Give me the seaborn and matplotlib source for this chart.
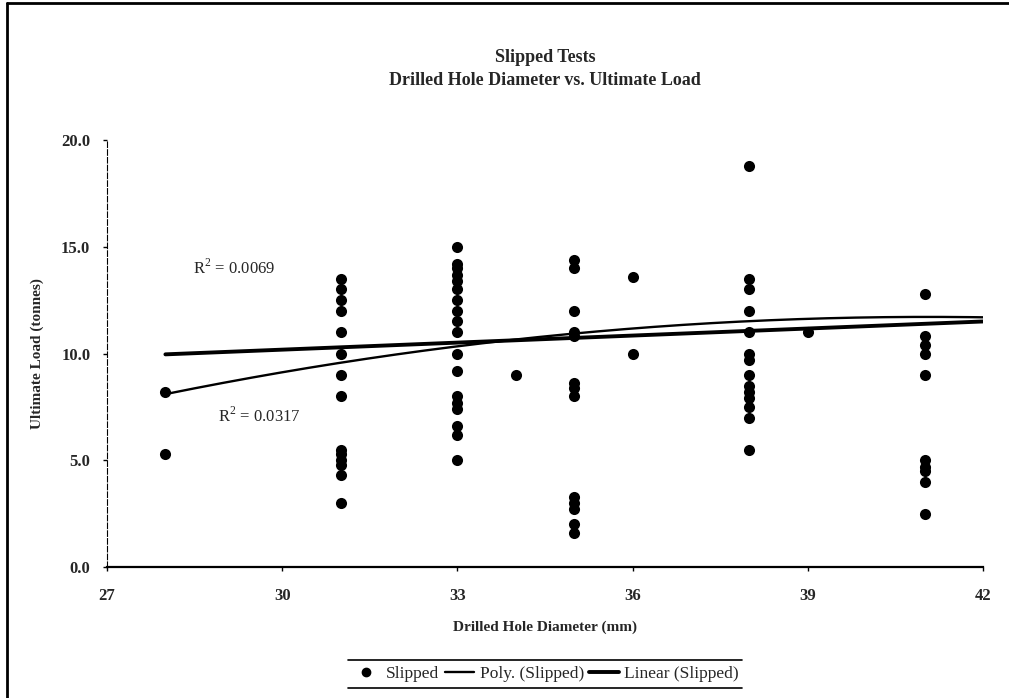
import numpy as np
import pandas as pd
import matplotlib
matplotlib.use("Agg")
import matplotlib.pyplot as plt
from matplotlib.lines import Line2D
import seaborn as sns

# ---- data ----
d28 = [8.2, 5.3]
d31 = [13.5, 13.0, 12.5, 12.0, 11.0, 10.0, 9.0, 8.0, 5.5, 5.3, 5.0, 4.8, 4.3, 3.0]
d33 = [15.0, 14.2, 14.0, 13.7, 13.4, 13.0, 12.5, 12.0, 11.5, 11.0, 10.0, 9.2,
       8.0, 7.7, 7.4, 6.6, 6.2, 5.0]
d34 = [9.0]
d35 = [14.4, 14.0, 12.0, 11.0, 10.8, 8.6, 8.4, 8.0, 3.3, 3.0, 2.7, 2.0, 1.6]
d36 = [13.6, 10.0]
d38 = [18.8, 13.5, 13.0, 12.0, 11.0, 10.0, 9.7, 9.0, 8.5, 8.2, 7.9, 7.5, 7.0, 5.5]
d39 = [11.0]
d41 = [12.8, 10.8, 10.4, 10.0, 9.0, 5.0, 4.7, 4.5, 4.0, 2.5]

groups = {28: d28, 31: d31, 33: d33, 34: d34, 35: d35, 36: d36, 38: d38, 39: d39, 41: d41}
diam_mm = [k for k, v in groups.items() for _ in v]
load_t = [y for v in groups.values() for y in v]

# trendline coefficients as shown in the reference (highest power first)
linear_coef = [0.110, 6.88]
poly_coef = [-0.0212, 1.741, -24.03]
trend_range = [28, 42]

x_ticks = [27, 30, 33, 36, 39, 42]
y_ticks = [0, 5, 10, 15, 20]
r2_linear_label = "R$^{2}$ = 0.0069"
r2_poly_label = "R$^{2}$ = 0.0317"

title = "Slipped Tests\nDrilled Hole Diameter vs. Ultimate Load"
xlabel = "Drilled Hole Diameter (mm)"
ylabel = "Ultimate Load (tonnes)"

df = pd.DataFrame({"diam": diam_mm, "load": load_t})

sns.set_style("white")
plt.rcParams['font.family'] = ['Liberation Serif', 'DejaVu Serif']
plt.rcParams['mathtext.fontset'] = 'custom'
plt.rcParams['mathtext.rm'] = 'Liberation Serif'

W, H = 1009, 698
fig = plt.figure(figsize=(W / 100, H / 100), dpi=100)
ax = fig.add_axes([107 / W, 1 - 567 / H, (983 - 107) / W, (567 - 140) / H])

sns.scatterplot(data=df, x="diam", y="load", ax=ax, color="black", s=64,
                edgecolor="black", linewidth=0, legend=False, zorder=3)

xfit = np.linspace(trend_range[0], trend_range[1], 200)
tdf = pd.DataFrame({"x": xfit,
                    "lin": np.polyval(linear_coef, xfit),
                    "poly": np.polyval(poly_coef, xfit)})
sns.lineplot(data=tdf, x="x", y="lin", ax=ax, color="black", lw=2.8, zorder=4)
sns.lineplot(data=tdf, x="x", y="poly", ax=ax, color="black", lw=1.7, zorder=4)

ax.set_xlim(27, 42)
ax.set_ylim(0, 20)
ax.set_xticks(x_ticks)
ax.set_xticklabels([str(t) for t in x_ticks])
ax.set_yticks(y_ticks)
ax.set_yticklabels([f"{t:.1f}" for t in y_ticks])
for lab in ax.get_xticklabels() + ax.get_yticklabels():
    lab.set_fontweight("bold")
    lab.set_fontsize(12)
ax.tick_params(axis="both", direction="out", length=3, width=1, color="black",
               bottom=True, left=True)
ax.tick_params(axis="x", pad=12)
ax.tick_params(axis="y", pad=9)

for s in ["top", "right"]:
    ax.spines[s].set_visible(False)
ax.spines["bottom"].set_color("black")
ax.spines["bottom"].set_linewidth(1.6)
ax.spines["left"].set_color("black")
ax.spines["left"].set_linewidth(0.8)
ax.spines["left"].set_linestyle((0, (5, 2)))

ax.set_xlabel(xlabel, fontsize=11, fontweight="bold", labelpad=12)
ax.set_ylabel(ylabel, fontsize=11, fontweight="bold", labelpad=12)

fig.text(545 / W, 1 - 69 / H, title, ha="center", va="center", fontsize=13,
         fontweight="bold", linespacing=1.5)

ax.text(28.47, 14.0, r2_linear_label, fontsize=12, va="center", ha="left")
ax.text(28.9, 7.07, r2_poly_label, fontsize=12, va="center", ha="left")

handles = [
    Line2D([], [], marker="o", color="black", linestyle="none", markersize=6),
    Line2D([], [], color="black", lw=1.7),
    Line2D([], [], color="black", lw=2.8),
]
labels = ["Slipped", "Poly. (Slipped)", "Linear (Slipped)"]
fig.legend(handles, labels, loc="center", bbox_to_anchor=(545 / W, 1 - 674 / H),
           ncol=3, frameon=False, fontsize=12.5, handlelength=1.7, handletextpad=0.3,
           columnspacing=0.3)

# legend top / bottom rules and outer frame
for yy in (660, 688):
    fig.add_artist(Line2D([348 / W, 742 / W], [1 - yy / H, 1 - yy / H],
                          color="black", lw=1.2, transform=fig.transFigure))
fig.add_artist(Line2D([7 / W, 7 / W], [0, 1 - 3 / H], color="black", lw=2,
                      transform=fig.transFigure))
fig.add_artist(Line2D([7 / W, 1], [1 - 3 / H, 1 - 3 / H], color="black", lw=2,
                      transform=fig.transFigure))

fig.savefig("out.png", dpi=100)
